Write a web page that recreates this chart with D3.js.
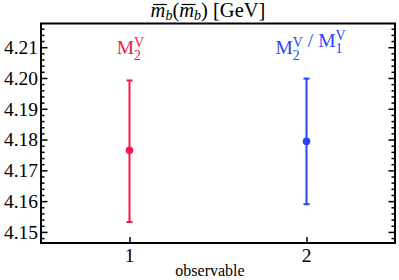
<!DOCTYPE html>
<html>
<head>
<meta charset="utf-8">
<script src="https://cdn.jsdelivr.net/npm/d3@7"></script>
<style>
body { margin: 0; background: #fff; }
</style>
</head>
<body>
<div id="chart"></div>
<script>
// observables and the fitted mass with its error bar
var observables = [1, 2];
var centralValues = [4.1765, 4.1794];
var upperValues = [4.1992, 4.1998];
var lowerValues = [4.1532, 4.1590];
var seriesColors = ["#f2174d", "#2b45f5"];
var yTicks = [4.15, 4.16, 4.17, 4.18, 4.19, 4.20, 4.21];

var serif = "'Liberation Serif', 'Times New Roman', Times, 'DejaVu Serif', serif";
var width = 399, height = 280;
var margin = {top: 23.5, right: 4, bottom: 37, left: 41};

var svg = d3.select("#chart").append("svg")
    .attr("width", width)
    .attr("height", height)
    .attr("font-family", serif);

var x = d3.scaleLinear().domain([0.5, 2.5])
    .range([margin.left, width - margin.right]);
var y = d3.scaleLinear().domain([4.1464, 4.2177])
    .range([height - margin.bottom, margin.top]);

// minor ticks every 0.002
var minorTicks = d3.range(4.148, 4.2175, 0.002).filter(function(v){
    return Math.abs(Math.round(v*100) - v*100) > 1e-6;
});

var gL = svg.append("g").attr("transform", "translate(" + margin.left + ",0)");
gL.call(d3.axisRight(y).tickValues(minorTicks).tickSize(3.5).tickFormat(""));
gL.append("g").call(d3.axisRight(y).tickValues(yTicks).tickSize(6.5).tickFormat(""));
gL.selectAll("path.domain").remove();

var gR = svg.append("g").attr("transform", "translate(" + (width - margin.right) + ",0)");
gR.call(d3.axisLeft(y).tickValues(minorTicks).tickSize(3.5).tickFormat(""));
gR.append("g").call(d3.axisLeft(y).tickValues(yTicks).tickSize(6.5).tickFormat(""));
gR.selectAll("path.domain").remove();

svg.selectAll(".tick line").attr("stroke", "#000").attr("stroke-width", 1.5);

// y tick labels
svg.append("g").selectAll("text")
    .data(yTicks)
    .enter().append("text")
    .attr("x", margin.left - 3)
    .attr("y", function(d){ return y(d); })
    .attr("dy", "0.35em")
    .attr("text-anchor", "end")
    .attr("font-family", serif)
    .style("font-size", "19.5px")
    .text(function(d){ return d3.format(".2f")(d); });

// bottom ticks
var gB = svg.append("g").attr("transform", "translate(0," + (height - margin.bottom) + ")");
gB.call(d3.axisTop(x).tickValues(observables).tickSize(6).tickFormat(""));
gB.selectAll("path.domain").remove();
gB.selectAll(".tick line").attr("stroke", "#000").attr("stroke-width", 1.5);

svg.append("g").selectAll("text")
    .data(observables)
    .enter().append("text")
    .attr("x", function(d){ return x(d); })
    .attr("y", height - margin.bottom + 18.5)
    .attr("text-anchor", "middle")
    .attr("font-family", serif)
    .style("font-size", "19.5px")
    .text(function(d){ return d; });

// frame
svg.append("rect")
    .attr("x", margin.left)
    .attr("y", margin.top)
    .attr("width", width - margin.left - margin.right)
    .attr("height", height - margin.top - margin.bottom)
    .attr("fill", "none")
    .attr("stroke", "#000")
    .attr("stroke-width", 2);

// error bars
var bars = svg.append("g").selectAll("g")
    .data(observables)
    .enter().append("g");

bars.append("line")
    .attr("x1", function(d){ return x(d); })
    .attr("x2", function(d){ return x(d); })
    .attr("y1", function(d, i){ return y(lowerValues[i]); })
    .attr("y2", function(d, i){ return y(upperValues[i]); })
    .attr("stroke", function(d, i){ return seriesColors[i]; })
    .attr("stroke-width", 2);

[upperValues, lowerValues].forEach(function(vals){
    bars.append("line")
        .attr("x1", function(d){ return x(d) - 3; })
        .attr("x2", function(d){ return x(d) + 3; })
        .attr("y1", function(d, i){ return y(vals[i]); })
        .attr("y2", function(d, i){ return y(vals[i]); })
        .attr("stroke", function(d, i){ return seriesColors[i]; })
        .attr("stroke-width", 2);
});

bars.append("circle")
    .attr("cx", function(d){ return x(d); })
    .attr("cy", function(d, i){ return y(centralValues[i]); })
    .attr("r", 3.8)
    .attr("fill", function(d, i){ return seriesColors[i]; });

// series labels
function mLabel(sel, sub){
    sel.append("tspan").text("M");
    sel.append("tspan").attr("dy", 6).style("font-size", "14px").text(sub);
    sel.append("tspan").attr("dx", -7).attr("dy", -13).style("font-size", "14px").text("V");
    sel.append("tspan").attr("dy", 7).text("");
}

var l1 = svg.append("text")
    .attr("x", x(observables[0]) + 1)
    .attr("y", 54)
    .attr("text-anchor", "middle")
    .attr("fill", seriesColors[0])
    .style("font-size", "19.5px");
mLabel(l1, "2");

var l2 = svg.append("text")
    .attr("x", x(observables[1]) + 4)
    .attr("y", 54)
    .attr("text-anchor", "middle")
    .attr("fill", seriesColors[1])
    .style("font-size", "19.5px");
mLabel(l2, "2");
l2.append("tspan").attr("dx", 5).text("/ ");
mLabel(l2, "1");

// title, with the bars over m drawn by hand
var title = svg.append("text")
    .attr("x", 208)
    .attr("y", 17)
    .attr("text-anchor", "middle")
    .style("font-size", "20.5px");
title.append("tspan").style("font-style", "italic").text("m");
title.append("tspan").attr("dy", 3).style("font-style", "italic").style("font-size", "14px").text("b");
title.append("tspan").attr("dy", -3).text("(");
title.append("tspan").style("font-style", "italic").text("m");
title.append("tspan").attr("dy", 3).style("font-style", "italic").style("font-size", "14px").text("b");
title.append("tspan").attr("dy", -3).text(") [GeV]");

[0, 3].forEach(function(ci){
    var n = title.node();
    var s = n.getStartPositionOfChar(ci), e = n.getEndPositionOfChar(ci);
    svg.append("line")
        .attr("x1", s.x + 2.5)
        .attr("x2", e.x + 1.5)
        .attr("y1", 4.5)
        .attr("y2", 4.5)
        .attr("stroke", "#000")
        .attr("stroke-width", 1.2);
});

// x axis label
svg.append("text")
    .attr("x", 210)
    .attr("y", 276)
    .attr("text-anchor", "middle")
    .style("font-size", "16px")
    .text("observable");
</script>
</body>
</html>
